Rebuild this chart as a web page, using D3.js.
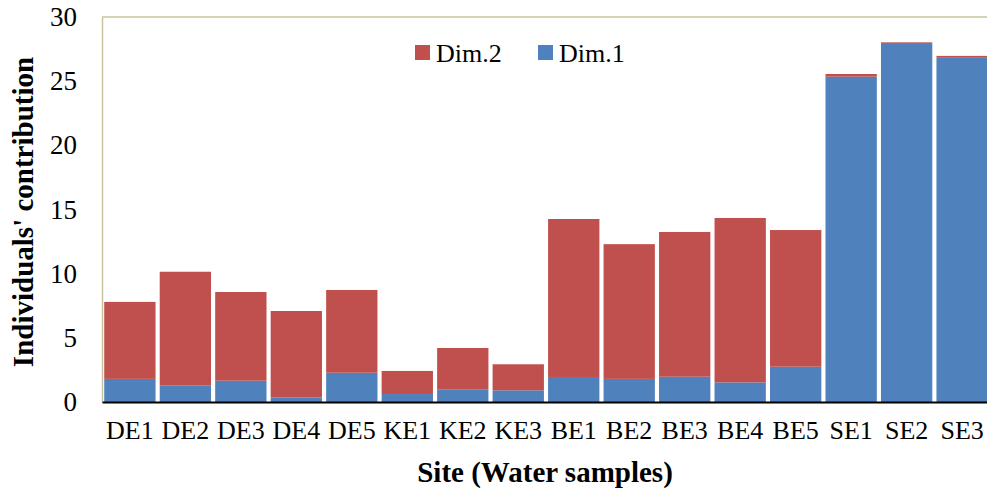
<!DOCTYPE html>
<html><head><meta charset="utf-8">
<script src="https://cdn.jsdelivr.net/npm/d3@7/dist/d3.min.js"></script>
<style>body{margin:0;background:#fff}svg{display:block}</style>
</head><body><svg id="c" width="987" height="488"></svg>
<script>
const categories = ["DE1","DE2","DE3","DE4","DE5","KE1","KE2","KE3","BE1","BE2","BE3","BE4","BE5","SE1","SE2","SE3"];
const dim1 = [1.8,1.3,1.66,0.35,2.28,0.62,0.96,0.91,1.95,1.8,1.97,1.53,2.75,25.35,27.98,26.87];
const dim2 = [6.0,8.85,6.91,6.74,6.45,1.8,3.25,2.03,12.31,10.5,11.28,12.81,10.65,0.21,0.05,0.1];
const yTicks = [0,5,10,15,20,25,30];
const seriesNames = ["Dim.1","Dim.2"];
const colors = {"Dim.1":"#4F81BD","Dim.2":"#C0504D"};

const svg = d3.select("#c");
const L=102, R=990, T=17, B=402;
const x = d3.scaleBand().domain(categories).range([L,R]).paddingInner(0.075).paddingOuter(0.04);
const y = d3.scaleLinear().domain([0,30]).range([B,T]);
const font = "'Liberation Serif','Times New Roman',serif";

const rows = categories.map((c,i)=>({cat:c,"Dim.1":dim1[i],"Dim.2":dim2[i]}));
const stack = d3.stack().keys(seriesNames)(rows);

svg.append("line").attr("x1",L).attr("x2",987).attr("y1",T).attr("y2",T).attr("stroke","#c9c3a0").attr("stroke-width",1.5);

svg.append("g").selectAll("g").data(stack).join("g")
  .attr("fill",d=>colors[d.key])
  .selectAll("rect").data(d=>d).join("rect")
  .attr("x",d=>x(d.data.cat)).attr("width",x.bandwidth())
  .attr("y",d=>y(d[1])).attr("height",d=>Math.max(0,y(d[0])-y(d[1])));

const ya = svg.append("g").attr("transform",`translate(${L},0)`)
  .call(d3.axisLeft(y).tickValues(yTicks).tickSize(0).tickPadding(25));
ya.select(".domain").attr("stroke","#c9c3a0").attr("stroke-width",1.5);
ya.selectAll("text").attr("font-family",font).attr("font-size",27).attr("fill","#000");

const xa = svg.append("g").attr("transform",`translate(0,${B})`)
  .call(d3.axisBottom(x).tickSize(0).tickPadding(19));
xa.select(".domain").attr("stroke","#000").attr("stroke-width",2);
xa.selectAll("text").attr("font-family",font).attr("font-size",26).attr("fill","#000");

svg.append("text").attr("x",545).attr("y",482).attr("text-anchor","middle")
  .attr("font-family",font).attr("font-size",29).attr("font-weight","bold").text("Site (Water samples)");
svg.append("text").attr("transform","translate(33,212) rotate(-90)").attr("text-anchor","middle")
  .attr("font-family",font).attr("font-size",29).attr("font-weight","bold").text("Individuals' contribution");

const leg = [{k:"Dim.2",x:415},{k:"Dim.1",x:538}];
const lg = svg.append("g");
leg.forEach(l=>{
  lg.append("rect").attr("x",l.x).attr("y",45).attr("width",15).attr("height",15).attr("fill",colors[l.k]);
  lg.append("text").attr("x",l.x+21).attr("y",62).attr("font-family",font).attr("font-size",26).attr("fill","#000").text(l.k);
});
</script></body></html>
